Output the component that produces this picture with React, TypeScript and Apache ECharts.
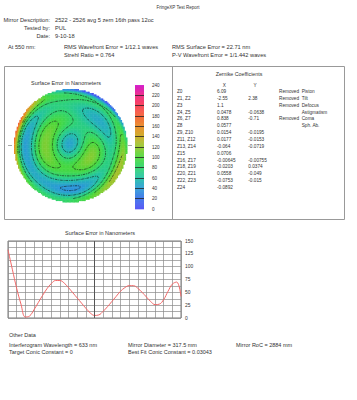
import React, { useEffect, useRef } from "react";
import * as echarts from "echarts";

// ---------- data ----------
const reportTitle = "FringeXP Test Report";
const headerLabels = ["Mirror Description:", "Tested by:", "Date:"];
const headerValues = ["2522 - 2526 avg 5 zern 16th pass 12oc", "PUL", "9-10-18"];
const atWavelengthLabel = "At 550 nm:";
const errorTextsLeft = ["RMS Wavefront Error = 1/12.1 waves", "Strehl Ratio = 0.764"];
const errorTextsRight = ["RMS Surface Error = 22.71 nm", "P-V Wavefront Error = 1/1.442 waves"];

const mapTitle = "Surface Error in Nanometers";
const profileTitle = "Surface Error in Nanometers";
const zernikeTitle = "Zernike Coefficients";

const zernikeLabels = ["Z0", "Z1, Z2", "Z3", "Z4, Z5", "Z6, Z7", "Z8", "Z9, Z10", "Z11, Z12", "Z13, Z14", "Z15", "Z16, Z17", "Z18, Z19", "Z20, Z21", "Z22, Z23", "Z24"];
const zernikeX = ["6.09", "-2.55", "1.1", "0.0478", "0.838", "0.0577", "0.0154", "0.0177", "-0.064", "0.0706", "-0.00645", "-0.0203", "0.0558", "-0.0753", "-0.0892"];
const zernikeY = ["", "2.38", "", "-0.0638", "-0.71", "", "-0.0195", "-0.0153", "-0.0719", "", "-0.00755", "0.0374", "-0.049", "-0.015", ""];
const zernikeRemoved = ["Removed", "Removed", "Removed", "", "Removed", "", "", "", "", "", "", "", "", "", ""];
const zernikeNames = ["Piston", "Tilt", "Defocus", "Astigmatism", "Coma", "Sph. Ab.", "", "", "", "", "", "", "", "", ""];

const interferogramWavelength = 633; // nm
const otherDataTitle = "Other Data";
const otherDataCol1 = ["Interferogram Wavelength = 633 nm", "Target Conic Constant = 0"];
const otherDataCol2 = ["Mirror Diameter = 317.5 mm", "Best Fit Conic Constant = 0.03043"];
const otherDataCol3 = ["Mirror RoC = 2884 mm"];

const colorScaleMin = 0;
const colorScaleMax = 240;
const colorScaleStep = 20;
const colorStops = ["#4a48f5", "#3a70ea", "#2a98d8", "#22c0a8", "#2fd470", "#48d83c", "#90ca30", "#c8ac22", "#e8881e", "#f46032", "#f83c50", "#f0207c", "#d010c8"];

// profile across the horizontal diameter (41 samples, left edge to right edge)
const profileValues = [133, 95, 58, 27, 2, 4, 16, 30, 44, 57, 67, 73, 73, 68, 59, 49, 39, 29, 19, 10, 5, 6, 13, 22, 32, 42, 52, 59, 63, 63, 58, 50, 41, 32, 26, 27, 36, 52, 66, 70, 42];
const profileYMax = 150;
const profileYLabelStep = 25;

// ---------- Zernike (fringe ordering) ----------
function zern(k: number, r: number, t: number): number {
  const r2 = r * r, r3 = r2 * r, r4 = r2 * r2, r6 = r4 * r2, r8 = r4 * r4;
  switch (k) {
    case 0: return 1;
    case 1: return r * Math.cos(t);
    case 2: return r * Math.sin(t);
    case 3: return 2 * r2 - 1;
    case 4: return r2 * Math.cos(2 * t);
    case 5: return r2 * Math.sin(2 * t);
    case 6: return (3 * r2 - 2) * r * Math.cos(t);
    case 7: return (3 * r2 - 2) * r * Math.sin(t);
    case 8: return 6 * r4 - 6 * r2 + 1;
    case 9: return r3 * Math.cos(3 * t);
    case 10: return r3 * Math.sin(3 * t);
    case 11: return (4 * r2 - 3) * r2 * Math.cos(2 * t);
    case 12: return (4 * r2 - 3) * r2 * Math.sin(2 * t);
    case 13: return (10 * r4 - 12 * r2 + 3) * r * Math.cos(t);
    case 14: return (10 * r4 - 12 * r2 + 3) * r * Math.sin(t);
    case 15: return 20 * r6 - 30 * r4 + 12 * r2 - 1;
    case 16: return r4 * Math.cos(4 * t);
    case 17: return r4 * Math.sin(4 * t);
    case 18: return (5 * r2 - 4) * r3 * Math.cos(3 * t);
    case 19: return (5 * r2 - 4) * r3 * Math.sin(3 * t);
    case 20: return (15 * r4 - 20 * r2 + 6) * r2 * Math.cos(2 * t);
    case 21: return (15 * r4 - 20 * r2 + 6) * r2 * Math.sin(2 * t);
    case 22: return (35 * r6 - 60 * r4 + 30 * r2 - 4) * r * Math.cos(t);
    case 23: return (35 * r6 - 60 * r4 + 30 * r2 - 4) * r * Math.sin(t);
    case 24: return 70 * r8 - 140 * r6 + 90 * r4 - 20 * r2 + 1;
    default: return 0;
  }
}

function buildSurface(N: number, contourRadius: number) {
  const coeffs = new Array(25).fill(0);
  const removed = new Array(25).fill(false);
  zernikeLabels.forEach((lab, row) => {
    const idx = (lab.match(/\d+/g) || []).map(Number);
    const isRemoved = zernikeRemoved[row] === "Removed";
    if (idx[0] !== undefined) { coeffs[idx[0]] = parseFloat(zernikeX[row]) || 0; removed[idx[0]] = isRemoved; }
    if (idx[1] !== undefined) { coeffs[idx[1]] = parseFloat(zernikeY[row]) || 0; removed[idx[1]] = isRemoved; }
  });
  const scale = interferogramWavelength / 2;
  const f = (x: number, y: number) => {
    const r = Math.hypot(x, y);
    const t = Math.atan2(y, x);
    let s = 0;
    for (let k = 0; k < 25; k++) if (!removed[k] && coeffs[k] !== 0) s += coeffs[k] * zern(k, r, t);
    return s * scale;
  };
  const d = 2 / N;
  const cells: number[][] = [];
  let minS = Infinity;
  for (let i = 0; i < N; i++) {
    for (let j = 0; j < N; j++) {
      const cx = -1 + (i + 0.5) * d, cy = -1 + (j + 0.5) * d;
      if (cx * cx + cy * cy <= 1.0) {
        const v = f(cx, cy);
        if (v < minS) minS = v;
        cells.push([cx, cy, v]);
      }
    }
  }
  cells.forEach((c) => (c[2] -= minS));
  const nodes: number[][] = [];
  for (let i = 0; i <= N; i++) {
    nodes.push([]);
    for (let j = 0; j <= N; j++) nodes[i].push(f(-1 + i * d, -1 + j * d) - minS);
  }
  const levels: number[] = [];
  for (let L = colorScaleMin + colorScaleStep; L < colorScaleMax; L += colorScaleStep) levels.push(L);

  // marching squares -> segments keyed by edge ids, then chained into polylines
  const pointOf = new Map<string, number[]>();
  const adj = new Map<string, string[]>();
  const addAdj = (a: string, b: string) => {
    if (!adj.has(a)) adj.set(a, []);
    if (!adj.has(b)) adj.set(b, []);
    adj.get(a)!.push(b);
    adj.get(b)!.push(a);
  };
  for (let i = 0; i < N; i++) {
    for (let j = 0; j < N; j++) {
      const x0 = -1 + i * d, y0 = -1 + j * d, x1 = x0 + d, y1 = y0 + d;
      const v00 = nodes[i][j], v10 = nodes[i + 1][j], v11 = nodes[i + 1][j + 1], v01 = nodes[i][j + 1];
      for (const L of levels) {
        const pts: string[] = [];
        const edge = (key: string, ax: number, ay: number, va: number, bx: number, by: number, vb: number) => {
          if ((va - L) * (vb - L) < 0) {
            const tt = (L - va) / (vb - va);
            const k = L + "_" + key;
            if (!pointOf.has(k)) pointOf.set(k, [ax + (bx - ax) * tt, ay + (by - ay) * tt]);
            pts.push(k);
          }
        };
        edge(`h${i}_${j}`, x0, y0, v00, x1, y0, v10);
        edge(`v${i + 1}_${j}`, x1, y0, v10, x1, y1, v11);
        edge(`h${i}_${j + 1}`, x1, y1, v11, x0, y1, v01);
        edge(`v${i}_${j}`, x0, y1, v01, x0, y0, v00);
        for (let p = 0; p + 1 < pts.length; p += 2) {
          const a = pointOf.get(pts[p])!, b = pointOf.get(pts[p + 1])!;
          if (Math.hypot(a[0], a[1]) <= contourRadius && Math.hypot(b[0], b[1]) <= contourRadius) addAdj(pts[p], pts[p + 1]);
        }
      }
    }
  }
  const used = new Set<string>();
  const sk = (a: string, b: string) => (a < b ? a + "|" + b : b + "|" + a);
  const starts = [...adj.keys()].sort((a, b) => adj.get(a)!.length - adj.get(b)!.length);
  const lines: number[][][] = [];
  for (const s of starts) {
    for (const n of adj.get(s)!) {
      if (used.has(sk(s, n))) continue;
      used.add(sk(s, n));
      const pts = [pointOf.get(s)!, pointOf.get(n)!];
      let cur = n;
      while (true) {
        const nb = adj.get(cur)!.find((x) => !used.has(sk(cur, x)));
        if (!nb) break;
        used.add(sk(cur, nb));
        pts.push(pointOf.get(nb)!);
        cur = nb;
      }
      lines.push(pts);
    }
  }
  return { cells, lines, half: d / 2 };
}

const FONT = "'Liberation Sans', Arial, sans-serif";
const TXT = "#333";

function txt(text: string, x: number, y: number, align: string = "left", size = 5.7) {
  return {
    type: "text",
    x,
    y,
    silent: true,
    style: { text, fontSize: size, fontFamily: FONT, fill: TXT, align, verticalAlign: "middle" },
  };
}

export default function App() {
  const ref = useRef<HTMLDivElement>(null);
  useEffect(() => {
    if (!ref.current) return;
    const chart = echarts.init(ref.current, null, { renderer: "svg" });
    const { cells, lines, half } = buildSurface(84, 0.94);

    const g: any[] = [];
    g.push(txt(reportTitle, 178, 7.5, "center", 4.5));
    const hy = [19.5, 27.8, 36];
    headerLabels.forEach((t, i) => g.push(txt(t, 50, hy[i], "right")));
    headerValues.forEach((t, i) => g.push(txt(t, 55, hy[i])));
    g.push(txt(atWavelengthLabel, 8, 47));
    errorTextsLeft.forEach((t, i) => g.push(txt(t, 64, 47 + i * 8)));
    errorTextsRight.forEach((t, i) => g.push(txt(t, 172, 47 + i * 8)));
    // box
    g.push({ type: "rect", silent: true, shape: { x: 4.5, y: 66.5, width: 340, height: 153 }, style: { fill: "none", stroke: "#999", lineWidth: 1 } });
    g.push({ type: "line", silent: true, shape: { x1: 172.5, y1: 66.5, x2: 172.5, y2: 219.5 }, style: { stroke: "#999", lineWidth: 1 } });
    g.push(txt(mapTitle, 66, 83, "center", 5.5));
    g.push({ type: "line", silent: true, z: -1, shape: { x1: 8, y1: 145.5, x2: 133, y2: 145.5 }, style: { stroke: "#aaa", lineWidth: 1, lineDash: [4, 2] } });
    // zernike table
    const TS = 4.7;
    g.push(txt(zernikeTitle, 239, 74, "center", 5.3));
    g.push(txt("X", 224.3, 85, "center", TS));
    g.push(txt("Y", 255, 85, "center", TS));
    const rowY0 = 91.5, rowDY = 6.85;
    zernikeLabels.forEach((lab, i) => {
      const y = rowY0 + i * rowDY;
      g.push(txt(lab, 177, y, "left", TS));
      g.push(txt(zernikeX[i], 217, y, "left", TS));
      if (zernikeY[i]) g.push(txt(zernikeY[i], 248.3, y, "left", TS));
      if (zernikeRemoved[i]) g.push(txt(zernikeRemoved[i], 279, y, "left", TS));
      if (zernikeNames[i]) g.push(txt(zernikeNames[i], 301.7, y, "left", TS));
    });
    g.push(txt(profileTitle, 100, 233, "center", 5.5));
    g.push(txt(otherDataTitle, 9, 334.5, "left", 5.5));
    otherDataCol1.forEach((t, i) => g.push(txt(t, 9, 345 + i * 7, "left", 5.5)));
    otherDataCol2.forEach((t, i) => g.push(txt(t, 128, 345 + i * 7, "left", 5.5)));
    otherDataCol3.forEach((t, i) => g.push(txt(t, 236, 345 + i * 7, "left", 5.5)));

    const profileData = profileValues.map((v, i) => [i, v]);
    const nProfile = profileValues.length - 1;

    const nColorTicks = (colorScaleMax - colorScaleMin) / colorScaleStep;
    const colorbarLineColors: string[] = [];
    for (let i = 0; i <= nColorTicks; i++) colorbarLineColors.push(i === 0 || i === nColorTicks ? "rgba(0,0,0,0)" : "#222");
    // colour-bar legend swatches (one per unit of the colour scale)
    const colorbarData: number[][] = [];
    for (let v = colorScaleMin; v < colorScaleMax; v++) colorbarData.push([0.5, v + 0.5, v + 0.5]);

    chart.setOption({
      animation: false,
      backgroundColor: "#fff",
      textStyle: { fontFamily: FONT },
      grid: [
        { left: 14, top: 89, width: 113, height: 113 },
        { left: 135, top: 85, width: 9, height: 124 },
        { left: 8, top: 241, width: 173, height: 77, show: true, borderColor: "#777", borderWidth: 1, backgroundColor: "transparent" },
      ],
      xAxis: [
        { gridIndex: 0, type: "value", min: -1, max: 1, show: false },
        { gridIndex: 1, type: "value", min: 0, max: 1, show: false },
        {
          gridIndex: 2, type: "value", min: 0, max: nProfile, interval: 2,
          axisLabel: { show: false }, axisTick: { show: false }, axisLine: { show: false },
          splitLine: { show: true, lineStyle: { color: "#8a8a8a", width: 0.7 } },
        },
      ],
      yAxis: [
        { gridIndex: 0, type: "value", min: -1, max: 1, show: false },
        {
          gridIndex: 1, type: "value", min: colorScaleMin, max: colorScaleMax, interval: colorScaleStep, position: "right", z: 10,
          axisLine: { show: false }, axisTick: { show: false },
          axisLabel: { margin: 8, fontSize: 4.6, color: TXT, fontFamily: FONT },
          splitLine: { show: true, lineStyle: { color: colorbarLineColors, width: 0.8 } },
        },
        {
          gridIndex: 2, type: "value", min: 0, max: profileYMax, interval: profileYLabelStep / 2, position: "right",
          axisLine: { show: false }, axisTick: { show: false },
          axisLabel: { margin: 4, fontSize: 4.9, color: TXT, fontFamily: FONT, formatter: (v: number) => (v % profileYLabelStep === 0 ? String(v) : "") },
          splitLine: { show: true, lineStyle: { color: "#8a8a8a", width: 0.7 } },
        },
      ],
      visualMap: {
        type: "continuous",
        min: colorScaleMin,
        max: colorScaleMax,
        dimension: 2,
        seriesIndex: [0, 3],
        inRange: { color: colorStops },
        show: false,
      },
      graphic: { elements: g },
      series: [
        {
          type: "custom",
          xAxisIndex: 0,
          yAxisIndex: 0,
          silent: true,
          progressive: 0,
          z: 2,
          data: cells,
          encode: { x: 0, y: 1 },
          renderItem: (params: any, api: any) => {
            const p0 = api.coord([api.value(0) - half, api.value(1) + half]);
            const p1 = api.coord([api.value(0) + half, api.value(1) - half]);
            return {
              type: "rect",
              shape: { x: p0[0], y: p0[1], width: p1[0] - p0[0] + 0.45, height: p1[1] - p0[1] + 0.45 },
              style: { fill: api.visual("color") },
            };
          },
        },
        {
          type: "custom",
          xAxisIndex: 0,
          yAxisIndex: 0,
          silent: true,
          progressive: 0,
          z: 3,
          data: lines.map((_, i) => [0, 0, i]),
          encode: { x: 0, y: 1 },
          renderItem: (params: any, api: any) => {
            const pl = lines[api.value(2)];
            const points = pl.map((p) => api.coord(p));
            return {
              type: "polyline",
              shape: { points },
              style: { stroke: "#111", lineWidth: 0.6, fill: null, lineDash: [2.6, 0.9, 0.9, 0.9] },
            };
          },
        },
        {
          type: "line",
          xAxisIndex: 2,
          yAxisIndex: 2,
          silent: true,
          smooth: 0.4,
          showSymbol: false,
          data: profileData,
          lineStyle: { color: "#f06868", width: 1 },
          markLine: {
            silent: true,
            symbol: "none",
            label: { show: false },
            lineStyle: { color: "#555", width: 1, type: "solid" },
            data: [{ xAxis: nProfile / 2 }],
          },
        },
        {
          type: "custom",
          xAxisIndex: 1,
          yAxisIndex: 1,
          silent: true,
          progressive: 0,
          z: 2,
          data: colorbarData,
          encode: { x: 0, y: 1 },
          renderItem: (params: any, api: any) => {
            const p0 = api.coord([0, api.value(1) + 0.5]);
            const p1 = api.coord([1, api.value(1) - 0.5]);
            return {
              type: "rect",
              shape: { x: p0[0], y: p0[1], width: p1[0] - p0[0], height: p1[1] - p0[1] + 0.3 },
              style: { fill: api.visual("color") },
            };
          },
        },
      ],
    });
    return () => chart.dispose();
  }, []);
  return <div ref={ref} style={{ position: "fixed", left: 0, top: 0, width: 357, height: 400, background: "#fff" }} />;
}
